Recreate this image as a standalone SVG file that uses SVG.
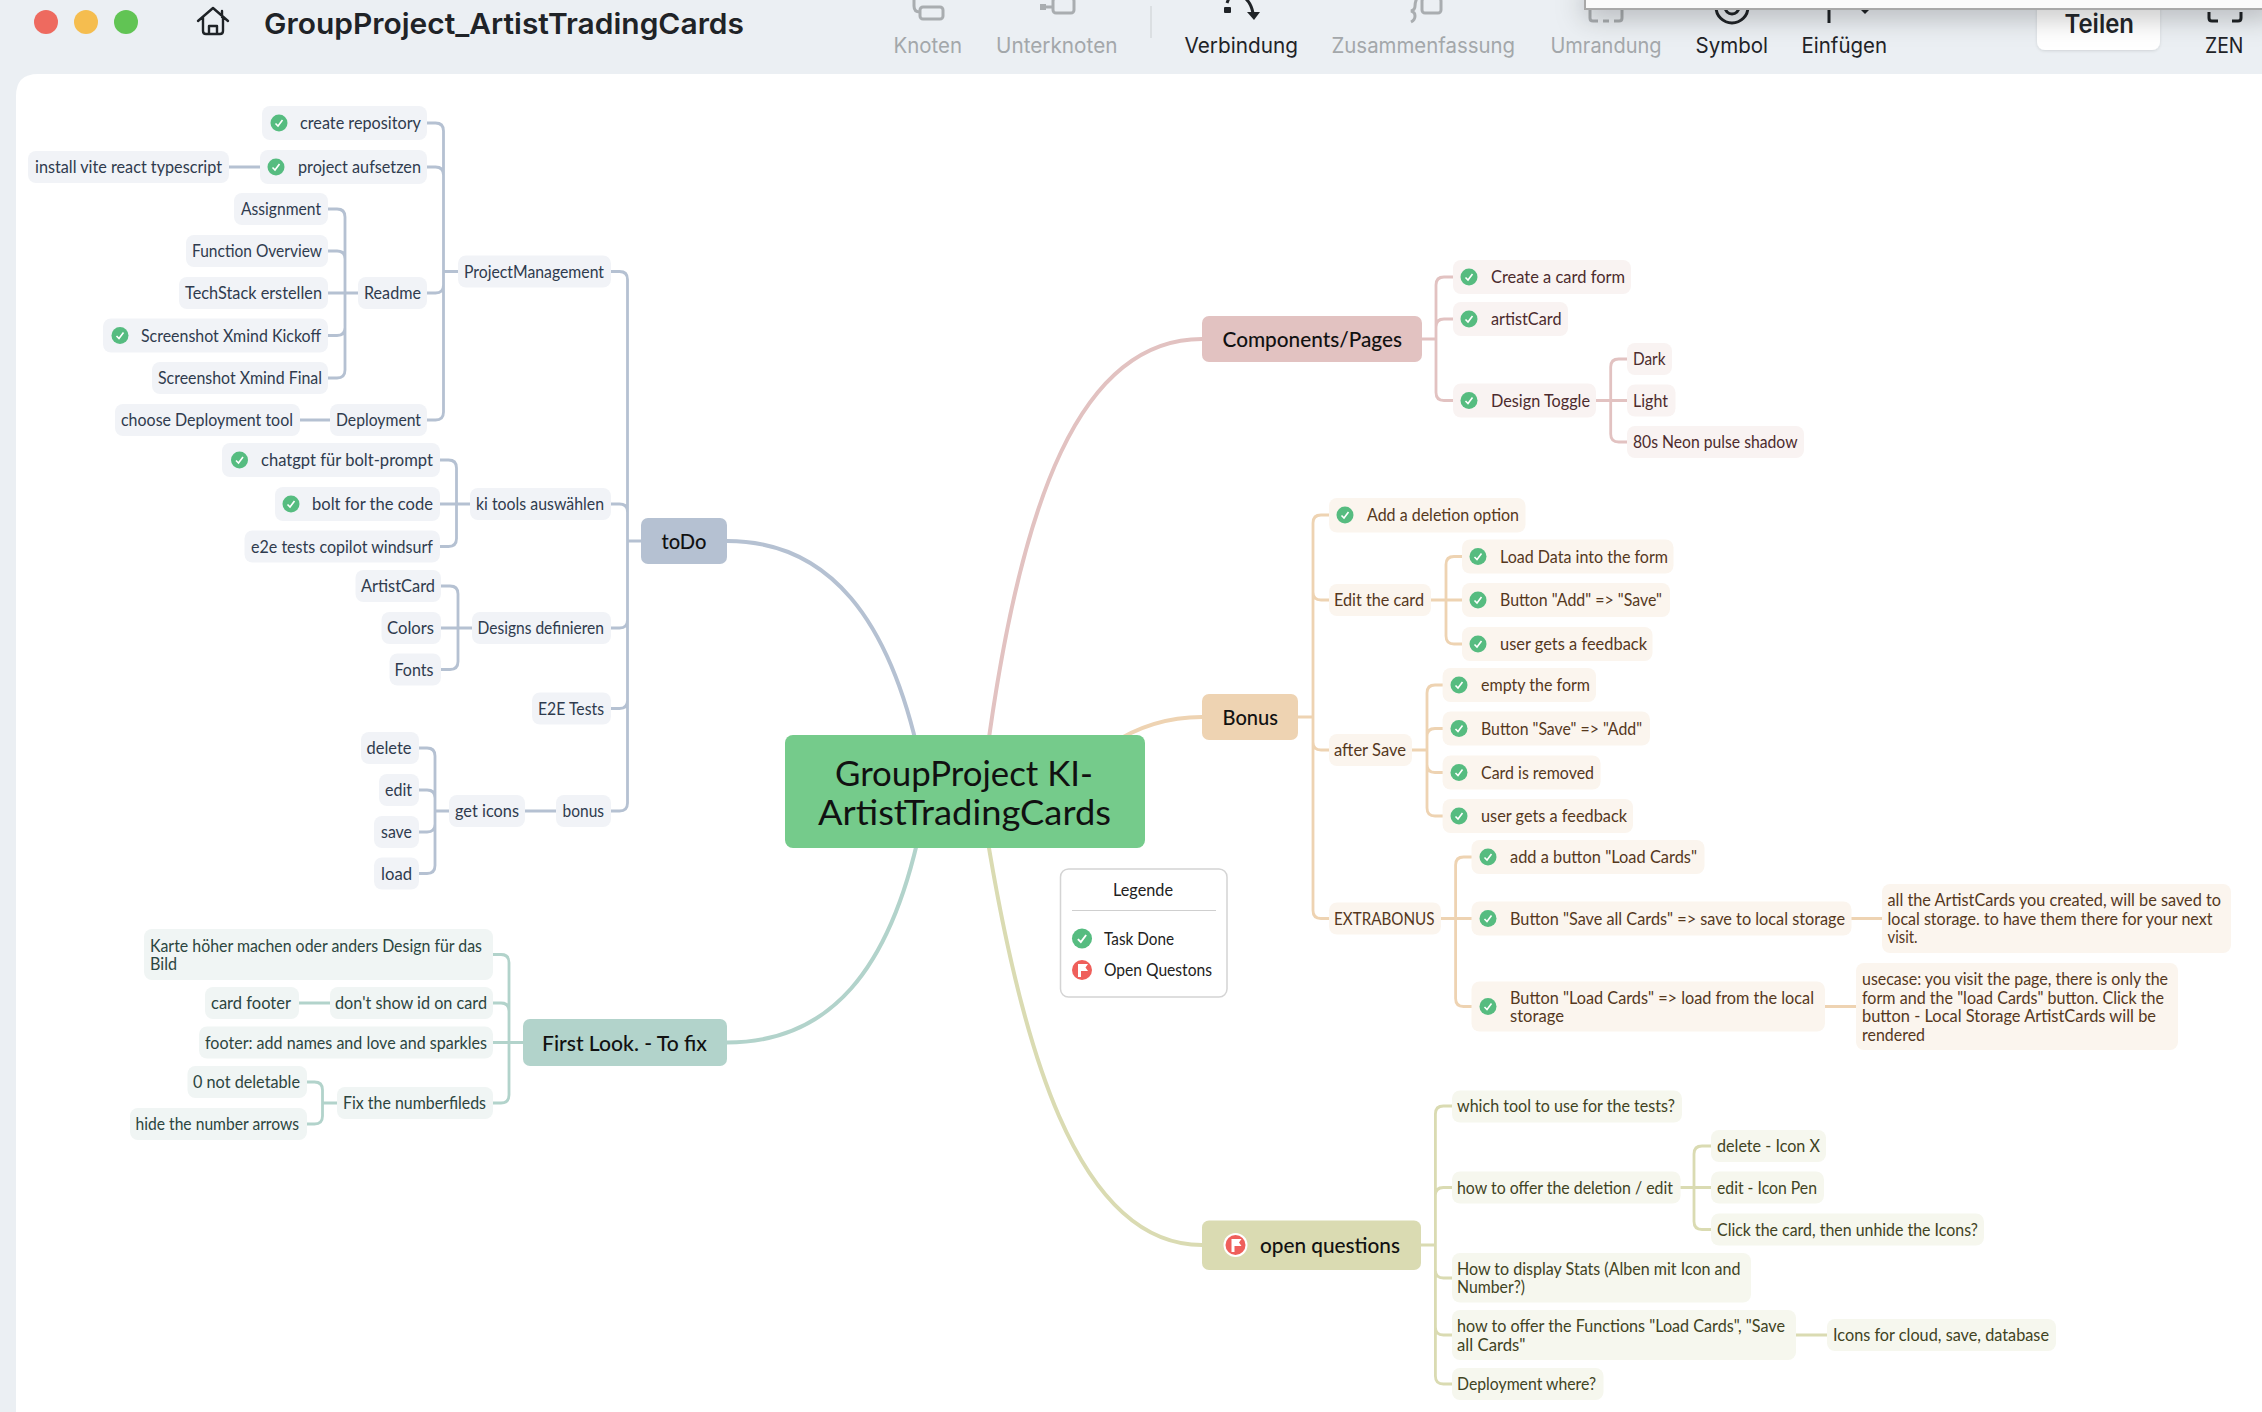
<svg xmlns="http://www.w3.org/2000/svg" width="2262" height="1412" viewBox="0 0 2262 1412">
<style>
text{font-family:"Lato","Noto Sans",sans-serif;font-size:16.5px;dominant-baseline:central}
.ui{font-family:"Inter","Noto Sans",sans-serif;font-size:21px}
.dim{fill:#a3a7aa}.blk{fill:#1f2327}
.ic{fill:none;stroke:#a9adb0;stroke-width:3}.icd{fill:none;stroke:#1f2327;stroke-width:3}
.home{fill:none;stroke:#1f2327;stroke-width:2.400;stroke-linejoin:round;stroke-linecap:round}
.c{fill:none;stroke-width:2.800;stroke-linecap:round}
.m{fill:none;stroke-width:4}
.bl{stroke:#b5c1d2}.rd{stroke:#e2c2c1}.or{stroke:#eed3b2}.ol{stroke:#dadbb2}.te{stroke:#b2d3cb}
.nb rect{fill:#f1f3f7}.nb text{fill:#2f3b4e}
.nr rect{fill:#f9f3f2}.nr text{fill:#4c2b2d}
.no rect{fill:#fbf5ee}.no text{fill:#55381d}
.nl rect{fill:#f6f7ee}.nl text{fill:#41431f}
.nt rect{fill:#f0f5f4}.nt text{fill:#2c4540}
.top text{fill:#111;font-size:21.5px;font-weight:500}
</style>
<defs>
<g id="ok"><circle r="8.5" fill="#56bc80"/><path d="M-3.500 0.500L-1 3L3.500 -3" fill="none" stroke="#fff" stroke-width="1.600"/></g>
<g id="flag"><circle r="10" fill="#ef5f5b"/><path d="M-4 7V-6H6L3.500 -2.500L6 1H-1V7Z" fill="#fff"/></g>
<filter id="sh" x="-10%" y="-100%" width="120%" height="500%"><feDropShadow dx="0" dy="6" stdDeviation="14" flood-color="#000" flood-opacity=".28"/></filter>
<filter id="sb" x="-10%" y="-20%" width="120%" height="140%"><feDropShadow dx="0" dy="1" stdDeviation="1.500" flood-color="#000" flood-opacity=".12"/></filter>
</defs>
<rect width="2262" height="1412" fill="#ebeff3"/>
<path d="M16 1412V96Q16 74 38 74H2262V1412Z" fill="#fff"/>
<g id="toolbar">
<circle cx="46" cy="22" r="12" fill="#ee6a5f"/><circle cx="86" cy="22" r="12" fill="#f5bd4f"/><circle cx="126" cy="22" r="12" fill="#61c454"/>
<path class="home" d="M198 21L213 8L228 21M203 17V31Q203 34 206 34H220Q223 34 223 31V17M209 34V26H217V34M222 11V17"/>
<text x="264" y="23" textLength="480" lengthAdjust="spacingAndGlyphs" style="font-family:Inter,sans-serif;font-size:29px;font-weight:600" class="blk">GroupProject_ArtistTradingCards</text>
<path class="ic" d="M914 0V6Q914 12 920 12"/><rect class="ic" x="920" y="7" width="23" height="12" rx="3"/>
<rect x="1040" y="4" width="6" height="6" fill="#a9adb0"/><path class="ic" d="M1046 7H1053"/><rect class="ic" x="1053" y="-2" width="21" height="15" rx="3"/>
<path d="M1151 6V38" stroke="#d6dadd" stroke-width="1.500"/>
<rect x="1224" y="7" width="7" height="6" rx="1" fill="#1f2327"/><path class="icd" d="M1227 3L1229 -2M1245 -2Q1251 3 1253 13"/><path d="M1247 12H1260L1254 20Z" fill="#1f2327"/>
<path class="ic" d="M1417 -2Q1415 2 1415 6T1411 11Q1415 12 1415 16T1411 22"/><rect class="ic" x="1422" y="-2" width="19" height="15" rx="3"/>
<path class="ic" d="M1590 10V18Q1590 21 1593 21H1598M1603 21H1609M1614 21H1619Q1622 21 1622 18V10"/>
<circle class="icd" cx="1732" cy="7" r="16"/><circle class="icd" cx="1732" cy="7" r="7"/>
<path class="icd" d="M1829 8V23"/><path d="M1861 10H1869L1865 14Z" fill="#1f2327"/>
<path class="icd" d="M2209 12V18Q2209 21 2212 21H2218M2232 21H2238Q2241 21 2241 18V12"/>
<rect x="2037" y="-6" width="123" height="56" rx="8" fill="#fff" filter="url(#sb)"/>
<rect x="1585" y="-12" width="690" height="21" fill="#fafafa" stroke="#a8a8a8" stroke-width="2" filter="url(#sh)"/>
<text class="ui dim" x="893.500" y="45.500" textLength="68.500" lengthAdjust="spacingAndGlyphs">Knoten</text>
<text class="ui dim" x="996" y="45.500" textLength="121.500" lengthAdjust="spacingAndGlyphs">Unterknoten</text>
<text class="ui blk" x="1184.500" y="45.500" textLength="113.500" lengthAdjust="spacingAndGlyphs">Verbindung</text>
<text class="ui dim" x="1331.500" y="45.500" textLength="183.500" lengthAdjust="spacingAndGlyphs">Zusammenfassung</text>
<text class="ui dim" x="1550.500" y="45.500" textLength="111" lengthAdjust="spacingAndGlyphs">Umrandung</text>
<text class="ui blk" x="1695.500" y="45.500" textLength="72.500" lengthAdjust="spacingAndGlyphs">Symbol</text>
<text class="ui blk" x="1801.500" y="45.500" textLength="85.500" lengthAdjust="spacingAndGlyphs">Einfügen</text>
<text class="ui blk" x="2064.500" y="23" textLength="69.500" lengthAdjust="spacingAndGlyphs" style="font-size:26px;font-weight:600">Teilen</text>
<text class="ui blk" x="2205" y="45.500" textLength="38.500" lengthAdjust="spacingAndGlyphs">ZEN</text>
</g>
<g id="connectors">
<path class="m bl" d="M727 541C830 541 890 620 920 760"/>
<path class="m te" d="M727 1042.500C830 1042.500 890 970 920 830"/>
<path class="m rd" d="M986 760C1020 500 1080 339 1202 339"/>
<path class="m or" d="M1110 745C1140 725 1170 717 1202 717"/>
<path class="m ol" d="M986 830C1020 1040 1075 1245 1202 1245"/>
<path class="c bl" d="M611 271.500H619.500Q627.500 271.500 627.500 279.500V803Q627.500 811 619.500 811H611M611 504H619.500Q627.500 504 627.500 512M611 628H619.500Q627.500 628 627.500 620M611 708.500H619.500Q627.500 708.500 627.500 700.500M627.500 541H641"/>
<path class="c bl" d="M427 123H435.500Q443.500 123 443.500 131V412Q443.500 420 435.500 420H427M427 167H435.500Q443.500 167 443.500 175M427 293H435.500Q443.500 293 443.500 285M443.500 271.500H458M229 167H260M300 420H330"/>
<path class="c bl" d="M328 209H337Q345 209 345 217V370Q345 378 337 378H328M328 251H337Q345 251 345 259M328 335.500H337Q345 335.500 345 327.500M328 293H358"/>
<path class="c bl" d="M440 460H448.500Q456.500 460 456.500 468V538.500Q456.500 546.500 448.500 546.500H440M440 504H470"/>
<path class="c bl" d="M441 586H450Q458 586 458 594V661.500Q458 669.500 450 669.500H441M441 628H472"/>
<path class="c bl" d="M419 748H427Q435 748 435 756V865.500Q435 873.500 427 873.500H419M419 790H427Q435 790 435 798M419 832H427Q435 832 435 824M435 811H449M525 811H556"/>
<path class="c te" d="M493 954.500H501Q509 954.500 509 962.500V1095Q509 1103 501 1103H493M493 1003H501Q509 1003 509 1011M493 1042.500H523M299 1003H330"/>
<path class="c te" d="M307 1082H314.500Q322.500 1082 322.500 1090V1116Q322.500 1124 314.500 1124H307M322.500 1103H337"/>
<path class="c rd" d="M1453 277H1444Q1436 277 1436 285V392.500Q1436 400.500 1444 400.500H1453M1453 319H1444Q1436 319 1436 327M1422 339H1436"/>
<path class="c rd" d="M1627 359H1618.700Q1610.700 359 1610.700 367V434Q1610.700 442 1618.700 442H1627M1596 400.500H1627"/>
<path class="c or" d="M1329 515H1321Q1313 515 1313 523V910.500Q1313 918.500 1321 918.500H1329M1329 600H1321Q1313 600 1313 592M1329 750H1321Q1313 750 1313 742M1298 717H1313"/>
<path class="c or" d="M1462 556.500H1454Q1446 556.500 1446 564.500V636Q1446 644 1454 644H1462M1431 600H1462"/>
<path class="c or" d="M1442.600 685H1435Q1427 685 1427 693V808Q1427 816 1435 816H1442.600M1442.600 728.500H1435Q1427 728.500 1427 736.500M1442.600 772.500H1435Q1427 772.500 1427 764.500M1412 750H1427"/>
<path class="c or" d="M1471.500 857H1463.600Q1455.600 857 1455.600 865V998.500Q1455.600 1006.500 1463.600 1006.500H1471.500M1441 918.500H1471.500M1851.500 918.500H1882M1825 1006.500H1856"/>
<path class="c ol" d="M1452 1106H1443.400Q1435.400 1106 1435.400 1114V1376Q1435.400 1384 1443.400 1384H1452M1452 1187.500H1443.400Q1435.400 1187.500 1435.400 1195.500M1452 1278H1443.400Q1435.400 1278 1435.400 1270M1452 1335H1443.400Q1435.400 1335 1435.400 1327M1421 1245H1435.400M1796 1335H1827"/>
<path class="c ol" d="M1711 1146H1702Q1694 1146 1694 1154V1221.500Q1694 1229.500 1702 1229.500H1711M1680.600 1187.500H1711"/>
</g>
<g id="main"><rect x="785" y="735" width="360" height="113" rx="8" fill="#75cb8b"/>
<text x="835" y="772" textLength="258" lengthAdjust="spacingAndGlyphs" style="font-size:34px" fill="#111">GroupProject KI-</text>
<text x="818" y="811" textLength="293" lengthAdjust="spacingAndGlyphs" style="font-size:34px" fill="#111">ArtistTradingCards</text></g>
<g id="legend"><rect x="1060.500" y="869" width="166.500" height="128" rx="8" fill="#fff" stroke="#d4d4d4" stroke-width="1.500"/>
<path d="M1072 910.500H1216" stroke="#cfcfcf" stroke-width="1.200"/>
<text x="1113" y="890" textLength="60" lengthAdjust="spacingAndGlyphs" fill="#222">Legende</text>
<g transform="translate(1082 938.500) scale(1.180)"><use href="#ok"/></g><text x="1104" y="938.500" textLength="70" lengthAdjust="spacingAndGlyphs" fill="#222">Task Done</text>
<use href="#flag" x="1082" y="970"/><text x="1104" y="970" textLength="108" lengthAdjust="spacingAndGlyphs" fill="#222">Open Questons</text></g>

<g id="n-todo" class="top"><rect x="641" y="518" width="86" height="46" rx="7" fill="#b5c1d2"/><text x="661.500" y="541" textLength="45" lengthAdjust="spacingAndGlyphs">toDo</text></g>
<g id="n-components" class="top"><rect x="1202" y="316" width="220" height="46" rx="7" fill="#e2c2c1"/><text x="1222.500" y="339" textLength="179.500" lengthAdjust="spacingAndGlyphs">Components/Pages</text></g>
<g id="n-bonus" class="top"><rect x="1202" y="694" width="96" height="46" rx="7" fill="#eed3b2"/><text x="1222.500" y="717" textLength="55.500" lengthAdjust="spacingAndGlyphs">Bonus</text></g>
<g id="n-first" class="top"><rect x="523" y="1019" width="204" height="47" rx="7" fill="#b2d3cb"/><text x="542" y="1042.500" textLength="165" lengthAdjust="spacingAndGlyphs">First Look. - To fix</text></g>
<g id="n-open" class="top"><rect x="1202" y="1220.500" width="219" height="49.500" rx="7" fill="#dadbb2"/><circle cx="1235.500" cy="1245" r="12" fill="#fff"/><use href="#flag" x="1235.500" y="1245"/><text x="1260" y="1245" textLength="140" lengthAdjust="spacingAndGlyphs">open questions</text></g>

<g class="nb">
<g id="n1"><rect x="262" y="106" width="165" height="34" rx="8"/><use href="#ok" x="279" y="123"/><text x="300" y="123" textLength="121" lengthAdjust="spacingAndGlyphs">create repository</text></g>
<g id="n2"><rect x="260" y="150" width="167" height="34" rx="8"/><use href="#ok" x="276" y="167"/><text x="298" y="167" textLength="123" lengthAdjust="spacingAndGlyphs">project aufsetzen</text></g>
<g id="n3"><rect x="28" y="151" width="201" height="32" rx="8"/><text x="35" y="167" textLength="187" lengthAdjust="spacingAndGlyphs">install vite react typescript</text></g>
<g id="n4"><rect x="234" y="193" width="94" height="32" rx="8"/><text x="241" y="209" textLength="80" lengthAdjust="spacingAndGlyphs">Assignment</text></g>
<g id="n5"><rect x="186" y="235" width="142" height="32" rx="8"/><text x="192" y="251" textLength="130" lengthAdjust="spacingAndGlyphs">Function Overview</text></g>
<g id="n6"><rect x="179" y="277" width="149" height="32" rx="8"/><text x="185" y="293" textLength="137" lengthAdjust="spacingAndGlyphs">TechStack erstellen</text></g>
<g id="n7"><rect x="358" y="277" width="69" height="32" rx="8"/><text x="364" y="293" textLength="57" lengthAdjust="spacingAndGlyphs">Readme</text></g>
<g id="n8"><rect x="103" y="318.500" width="225" height="34" rx="8"/><use href="#ok" x="120" y="335.500"/><text x="141" y="335.500" textLength="180" lengthAdjust="spacingAndGlyphs">Screenshot Xmind Kickoff</text></g>
<g id="n9"><rect x="152" y="362" width="176" height="32" rx="8"/><text x="158" y="378" textLength="164" lengthAdjust="spacingAndGlyphs">Screenshot Xmind Final</text></g>
<g id="n10"><rect x="458" y="255.500" width="153" height="32" rx="8"/><text x="464" y="271.500" textLength="140" lengthAdjust="spacingAndGlyphs">ProjectManagement</text></g>
<g id="n11"><rect x="115" y="404" width="185" height="32" rx="8"/><text x="121" y="420" textLength="172" lengthAdjust="spacingAndGlyphs">choose Deployment tool</text></g>
<g id="n12"><rect x="330" y="404" width="97" height="32" rx="8"/><text x="336" y="420" textLength="85" lengthAdjust="spacingAndGlyphs">Deployment</text></g>
<g id="n13"><rect x="222" y="443" width="218" height="34" rx="8"/><use href="#ok" x="239.500" y="460"/><text x="261" y="460" textLength="172" lengthAdjust="spacingAndGlyphs">chatgpt für bolt-prompt</text></g>
<g id="n14"><rect x="275" y="487" width="165" height="34" rx="8"/><use href="#ok" x="291" y="504"/><text x="312" y="504" textLength="121" lengthAdjust="spacingAndGlyphs">bolt for the code</text></g>
<g id="n15"><rect x="244.500" y="530.500" width="195.500" height="32" rx="8"/><text x="251" y="546.500" textLength="182" lengthAdjust="spacingAndGlyphs">e2e tests copilot windsurf</text></g>
<g id="n16"><rect x="470" y="488" width="141" height="32" rx="8"/><text x="476" y="504" textLength="128" lengthAdjust="spacingAndGlyphs">ki tools auswählen</text></g>
<g id="n17"><rect x="355.500" y="570" width="85.500" height="32" rx="8"/><text x="361" y="586" textLength="74" lengthAdjust="spacingAndGlyphs">ArtistCard</text></g>
<g id="n18"><rect x="381.500" y="612" width="59.500" height="32" rx="8"/><text x="387" y="628" textLength="47" lengthAdjust="spacingAndGlyphs">Colors</text></g>
<g id="n19"><rect x="389.500" y="653.500" width="51.500" height="32" rx="8"/><text x="394.500" y="669.500" textLength="39" lengthAdjust="spacingAndGlyphs">Fonts</text></g>
<g id="n20"><rect x="472" y="612" width="139" height="32" rx="8"/><text x="477.500" y="628" textLength="126.500" lengthAdjust="spacingAndGlyphs">Designs definieren</text></g>
<g id="n21"><rect x="532" y="692.500" width="79" height="32" rx="8"/><text x="538" y="708.500" textLength="66" lengthAdjust="spacingAndGlyphs">E2E Tests</text></g>
<g id="n22"><rect x="361" y="732" width="58" height="32" rx="8"/><text x="366.500" y="748" textLength="45" lengthAdjust="spacingAndGlyphs">delete</text></g>
<g id="n23"><rect x="379" y="774" width="40" height="32" rx="8"/><text x="385" y="790" textLength="27" lengthAdjust="spacingAndGlyphs">edit</text></g>
<g id="n24"><rect x="374" y="816" width="45" height="32" rx="8"/><text x="381" y="832" textLength="31" lengthAdjust="spacingAndGlyphs">save</text></g>
<g id="n25"><rect x="374" y="857.500" width="45" height="32" rx="8"/><text x="381" y="873.500" textLength="31" lengthAdjust="spacingAndGlyphs">load</text></g>
<g id="n26"><rect x="449" y="795" width="76" height="32" rx="8"/><text x="455" y="811" textLength="64" lengthAdjust="spacingAndGlyphs">get icons</text></g>
<g id="n27"><rect x="556" y="795" width="55" height="32" rx="8"/><text x="562.500" y="811" textLength="41.500" lengthAdjust="spacingAndGlyphs">bonus</text></g>
</g>
<g class="nt">
<g id="n28"><rect x="144" y="929" width="349" height="51" rx="8"/><text x="150" y="946" textLength="332" lengthAdjust="spacingAndGlyphs">Karte höher machen oder anders Design für das</text><text x="150" y="964" textLength="27" lengthAdjust="spacingAndGlyphs">Bild</text></g>
<g id="n29"><rect x="205" y="987" width="94" height="32" rx="8"/><text x="211" y="1003" textLength="80" lengthAdjust="spacingAndGlyphs">card footer</text></g>
<g id="n30"><rect x="330" y="987" width="163" height="32" rx="8"/><text x="335" y="1003" textLength="152" lengthAdjust="spacingAndGlyphs">don't show id on card</text></g>
<g id="n31"><rect x="199" y="1026.500" width="294" height="32" rx="8"/><text x="205" y="1042.500" textLength="282" lengthAdjust="spacingAndGlyphs">footer: add names and love and sparkles</text></g>
<g id="n32"><rect x="187.500" y="1066" width="119.500" height="32" rx="8"/><text x="193" y="1082" textLength="107" lengthAdjust="spacingAndGlyphs">0 not deletable</text></g>
<g id="n33"><rect x="130" y="1108" width="177" height="32" rx="8"/><text x="135.500" y="1124" textLength="163.500" lengthAdjust="spacingAndGlyphs">hide the number arrows</text></g>
<g id="n34"><rect x="337" y="1087" width="156" height="32" rx="8"/><text x="343" y="1103" textLength="143" lengthAdjust="spacingAndGlyphs">Fix the numberfileds</text></g>
</g>
<g class="nr">
<g id="n35"><rect x="1453" y="260" width="178" height="34" rx="8"/><use href="#ok" x="1469" y="277"/><text x="1491" y="277" textLength="134" lengthAdjust="spacingAndGlyphs">Create a card form</text></g>
<g id="n36"><rect x="1453" y="302" width="115" height="34" rx="8"/><use href="#ok" x="1469" y="319"/><text x="1491" y="319" textLength="70.500" lengthAdjust="spacingAndGlyphs">artistCard</text></g>
<g id="n37"><rect x="1453" y="383.500" width="143" height="34" rx="8"/><use href="#ok" x="1469" y="400.500"/><text x="1491" y="400.500" textLength="99" lengthAdjust="spacingAndGlyphs">Design Toggle</text></g>
<g id="n38"><rect x="1627" y="343" width="45" height="32" rx="8"/><text x="1633" y="359" textLength="32.500" lengthAdjust="spacingAndGlyphs">Dark</text></g>
<g id="n39"><rect x="1627" y="384.500" width="48.500" height="32" rx="8"/><text x="1633" y="400.500" textLength="35" lengthAdjust="spacingAndGlyphs">Light</text></g>
<g id="n40"><rect x="1627" y="426" width="177" height="32" rx="8"/><text x="1633" y="442" textLength="164.500" lengthAdjust="spacingAndGlyphs">80s Neon pulse shadow</text></g>
</g>
<g class="no">
<g id="n41"><rect x="1329" y="498" width="196.500" height="34.500" rx="8"/><use href="#ok" x="1345" y="515"/><text x="1367" y="515" textLength="152" lengthAdjust="spacingAndGlyphs">Add a deletion option</text></g>
<g id="n42"><rect x="1329" y="584" width="102" height="32" rx="8"/><text x="1334" y="600" textLength="90" lengthAdjust="spacingAndGlyphs">Edit the card</text></g>
<g id="n43"><rect x="1462" y="539.500" width="211.500" height="34" rx="8"/><use href="#ok" x="1478" y="556.500"/><text x="1500" y="556.500" textLength="168" lengthAdjust="spacingAndGlyphs">Load Data into the form</text></g>
<g id="n44"><rect x="1462" y="583" width="208" height="34" rx="8"/><use href="#ok" x="1478" y="600"/><text x="1500" y="600" textLength="162" lengthAdjust="spacingAndGlyphs">Button "Add" =&gt; "Save"</text></g>
<g id="n45"><rect x="1462" y="627" width="190.500" height="34" rx="8"/><use href="#ok" x="1478" y="644"/><text x="1500" y="644" textLength="147" lengthAdjust="spacingAndGlyphs">user gets a feedback</text></g>
<g id="n46"><rect x="1442.600" y="668" width="153.400" height="34" rx="8"/><use href="#ok" x="1459" y="685"/><text x="1481" y="685" textLength="109" lengthAdjust="spacingAndGlyphs">empty the form</text></g>
<g id="n47"><rect x="1442.600" y="711.500" width="207.400" height="34" rx="8"/><use href="#ok" x="1459" y="728.500"/><text x="1481" y="728.500" textLength="161" lengthAdjust="spacingAndGlyphs">Button "Save" =&gt; "Add"</text></g>
<g id="n48"><rect x="1442.600" y="755.500" width="158" height="34" rx="8"/><use href="#ok" x="1459" y="772.500"/><text x="1481" y="772.500" textLength="113" lengthAdjust="spacingAndGlyphs">Card is removed</text></g>
<g id="n49"><rect x="1442.600" y="799" width="190.400" height="34" rx="8"/><use href="#ok" x="1459" y="816"/><text x="1481" y="816" textLength="146" lengthAdjust="spacingAndGlyphs">user gets a feedback</text></g>
<g id="n50"><rect x="1329" y="734" width="83" height="32" rx="8"/><text x="1334" y="750" textLength="72" lengthAdjust="spacingAndGlyphs">after Save</text></g>
<g id="n51"><rect x="1329" y="902.500" width="112" height="32" rx="8"/><text x="1334" y="918.500" textLength="100.500" lengthAdjust="spacingAndGlyphs">EXTRABONUS</text></g>
<g id="n52"><rect x="1471.500" y="840" width="233" height="34" rx="8"/><use href="#ok" x="1488" y="857"/><text x="1510" y="857" textLength="187" lengthAdjust="spacingAndGlyphs">add a button "Load Cards"</text></g>
<g id="n53"><rect x="1471.500" y="901.500" width="380" height="34" rx="8"/><use href="#ok" x="1488" y="918.500"/><text x="1510" y="918.500" textLength="335" lengthAdjust="spacingAndGlyphs">Button "Save all Cards" =&gt; save to local storage</text></g>
<g id="n54"><rect x="1471.500" y="981.500" width="353.500" height="50" rx="8"/><use href="#ok" x="1488" y="1006.500"/><text x="1510" y="998" textLength="304" lengthAdjust="spacingAndGlyphs">Button "Load Cards" =&gt; load from the local</text><text x="1510" y="1016" textLength="54" lengthAdjust="spacingAndGlyphs">storage</text></g>
<g id="n55"><rect x="1882" y="884" width="349" height="69" rx="8"/><text x="1887.500" y="899.500" textLength="333.500" lengthAdjust="spacingAndGlyphs">all the ArtistCards you created, will be saved to</text><text x="1887.500" y="918.500" textLength="325" lengthAdjust="spacingAndGlyphs">local storage. to have them there for your next</text><text x="1887.500" y="937" textLength="30" lengthAdjust="spacingAndGlyphs">visit.</text></g>
<g id="n56"><rect x="1856" y="963" width="322" height="87" rx="8"/><text x="1862" y="979" textLength="306" lengthAdjust="spacingAndGlyphs">usecase: you visit the page, there is only the</text><text x="1862" y="998" textLength="302" lengthAdjust="spacingAndGlyphs">form and the "load Cards" button. Click the</text><text x="1862" y="1016" textLength="294" lengthAdjust="spacingAndGlyphs">button - Local Storage ArtistCards will be</text><text x="1862" y="1035" textLength="63" lengthAdjust="spacingAndGlyphs">rendered</text></g>
</g>
<g class="nl">
<g id="n57"><rect x="1452" y="1090.500" width="230" height="32" rx="8"/><text x="1457" y="1106" textLength="218" lengthAdjust="spacingAndGlyphs">which tool to use for the tests?</text></g>
<g id="n58"><rect x="1452" y="1171.500" width="228.600" height="32" rx="8"/><text x="1457" y="1187.500" textLength="216" lengthAdjust="spacingAndGlyphs">how to offer the deletion / edit</text></g>
<g id="n59"><rect x="1711" y="1130" width="115" height="32" rx="8"/><text x="1717" y="1146" textLength="103" lengthAdjust="spacingAndGlyphs">delete - Icon X</text></g>
<g id="n60"><rect x="1711" y="1171.500" width="113" height="32" rx="8"/><text x="1717" y="1187.500" textLength="100" lengthAdjust="spacingAndGlyphs">edit - Icon Pen</text></g>
<g id="n61"><rect x="1711" y="1213.500" width="273" height="32" rx="8"/><text x="1717" y="1229.500" textLength="261" lengthAdjust="spacingAndGlyphs">Click the card, then unhide the Icons?</text></g>
<g id="n62"><rect x="1452" y="1253" width="299" height="49.500" rx="8"/><text x="1457" y="1269" textLength="283.500" lengthAdjust="spacingAndGlyphs">How to display Stats (Alben mit Icon and</text><text x="1457" y="1287" textLength="68" lengthAdjust="spacingAndGlyphs">Number?)</text></g>
<g id="n63"><rect x="1452" y="1310" width="344" height="50" rx="8"/><text x="1457" y="1325.500" textLength="328" lengthAdjust="spacingAndGlyphs">how to offer the Functions "Load Cards", "Save</text><text x="1457" y="1344.500" textLength="68.500" lengthAdjust="spacingAndGlyphs">all Cards"</text></g>
<g id="n64"><rect x="1827" y="1319" width="229" height="32" rx="8"/><text x="1833" y="1335" textLength="216" lengthAdjust="spacingAndGlyphs">Icons for cloud, save, database</text></g>
<g id="n65"><rect x="1452" y="1368" width="151.500" height="32" rx="8"/><text x="1457" y="1384" textLength="139" lengthAdjust="spacingAndGlyphs">Deployment where?</text></g>
</g>
</svg>
